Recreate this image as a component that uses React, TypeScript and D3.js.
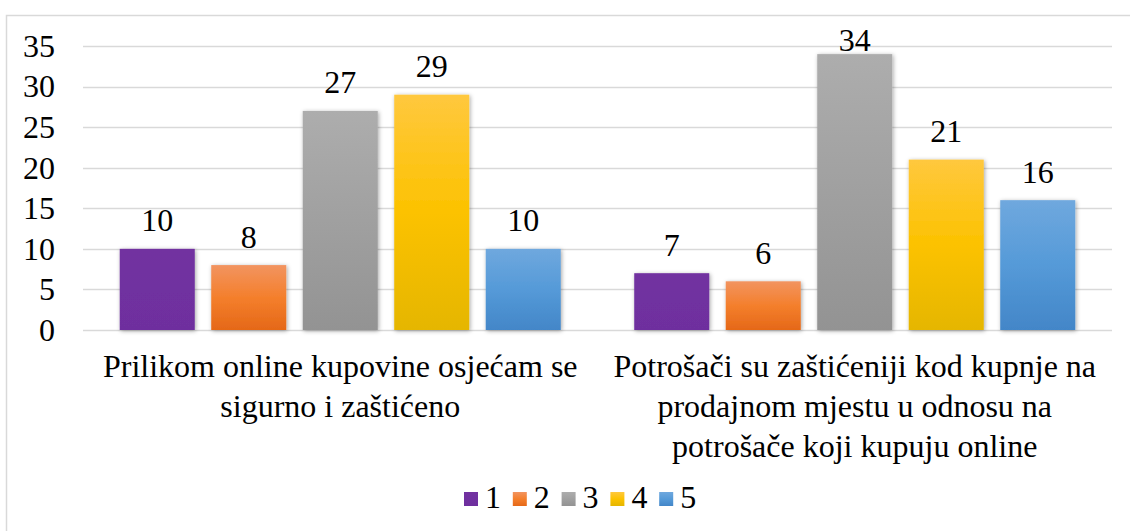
import React, { useRef, useEffect } from "react";
import * as d3 from "d3";

// chart values
const categories = [
  ["Prilikom online kupovine osjećam se", "sigurno i zaštićeno"],
  ["Potrošači su zaštićeniji kod kupnje na", "prodajnom mjestu u odnosu na", "potrošače koji kupuju online"],
];
const series = ["1", "2", "3", "4", "5"];
const values1 = [10, 8, 27, 29, 10];
const values2 = [7, 6, 34, 21, 16];
const yTicks = [0, 5, 10, 15, 20, 25, 30, 35];

// top, middle, bottom gradient stops per series
const colors = [
  ["#7232a0", "#7030a0", "#6e2f9e"],
  ["#f29460", "#f47f2c", "#e56818"],
  ["#adadad", "#a0a0a0", "#939393"],
  ["#ffc83e", "#fcc200", "#e5b600"],
  ["#6fa8de", "#559ad8", "#4386c8"],
];

const W = 1130;
const H = 531;
const FONT = "Liberation Serif, Times New Roman, serif";
const FS = 32;

function App() {
  const svgRef = useRef<SVGSVGElement>(null);

  useEffect(() => {
    const svg = d3.select(svgRef.current);
    svg.selectAll("*").remove();

    const left = 83, right = 1112, top = 46, bottom = 330;

    const defs = svg.append("defs");
    colors.forEach((c, i) => {
      const g = defs.append("linearGradient")
        .attr("id", "grad" + i)
        .attr("x1", 0).attr("y1", 0).attr("x2", 0).attr("y2", 1);
      g.append("stop").attr("offset", "0%").attr("stop-color", c[0]);
      g.append("stop").attr("offset", "50%").attr("stop-color", c[1]);
      g.append("stop").attr("offset", "100%").attr("stop-color", c[2]);
    });
    const f = defs.append("filter").attr("id", "shadow")
      .attr("x", "-20%").attr("y", "-20%").attr("width", "140%").attr("height", "140%");
    f.append("feDropShadow")
      .attr("dx", 1).attr("dy", 1).attr("stdDeviation", 2)
      .attr("flood-color", "#000").attr("flood-opacity", 0.35);

    // frame
    svg.append("rect")
      .attr("x", 6.5).attr("y", 15.5)
      .attr("width", W + 20).attr("height", H + 20)
      .attr("fill", "white").attr("stroke", "#d9d9d9").attr("stroke-width", 1.5);

    const y = d3.scaleLinear().domain([0, 35]).range([bottom, top]);
    const x0 = d3.scaleBand<number>().domain([0, 1]).range([left, right]);
    const outer = x0.bandwidth() * 0.0714;
    const x1 = d3.scaleBand().domain(series)
      .range([outer, x0.bandwidth() - outer]).paddingInner(0.18);

    const txt = (sel: any) =>
      sel.attr("font-family", FONT).attr("font-size", FS).attr("fill", "#000");

    // gridlines
    svg.append("g").selectAll("line").data(yTicks).join("line")
      .attr("x1", left).attr("x2", right)
      .attr("y1", (d) => Math.round(y(d)) + 0.5).attr("y2", (d) => Math.round(y(d)) + 0.5)
      .attr("stroke", "#d9d9d9").attr("stroke-width", 1.5);

    // y tick labels
    svg.append("g").selectAll("text").data(yTicks).join("text")
      .attr("x", 55).attr("y", (d) => y(d))
      .attr("dy", "0.34em")
      .attr("text-anchor", "end")
      .call(txt)
      .text((d) => d);

    const data = [values1, values2];
    data.forEach((vals, ci) => {
      const g = svg.append("g").attr("transform", `translate(${x0(ci)},0)`);
      g.selectAll("rect").data(vals).join("rect")
        .attr("x", (d, i) => x1(series[i])!)
        .attr("width", x1.bandwidth())
        .attr("y", (d) => y(d))
        .attr("height", (d) => y(0) - y(d))
        .attr("fill", (d, i) => `url(#grad${i})`)
        .attr("filter", "url(#shadow)");
      g.selectAll("text").data(vals).join("text")
        .attr("x", (d, i) => x1(series[i])! + x1.bandwidth() / 2)
        .attr("y", (d) => Math.max(y(d) - 17.5, 51))
        .attr("text-anchor", "middle")
        .call(txt)
        .text((d) => d);
    });

    // category labels
    categories.forEach((lines, ci) => {
      const cx = x0(ci)! + x0.bandwidth() / 2;
      svg.append("text")
        .attr("text-anchor", "middle")
        .call(txt)
        .selectAll("tspan").data(lines).join("tspan")
        .attr("x", cx).attr("y", (d, i) => 377 + i * 40)
        .text((d) => d);
    });

    // legend
    const legendX = d3.scaleBand().domain(series).range([464, 708]);
    const lg = svg.append("g").selectAll("g").data(series).join("g")
      .attr("transform", (d) => `translate(${legendX(d)},0)`);
    lg.append("rect")
      .attr("x", 0).attr("y", 492).attr("width", 14).attr("height", 14)
      .attr("fill", (d, i) => `url(#grad${i})`);
    lg.append("text")
      .attr("x", 21).attr("y", 508)
      .call(txt)
      .text((d) => d);
  }, []);

  return (
    <svg
      ref={svgRef}
      width={W}
      height={H}
      style={{ position: "absolute", left: 0, top: 0, background: "white" }}
    />
  );
}

export default App;
